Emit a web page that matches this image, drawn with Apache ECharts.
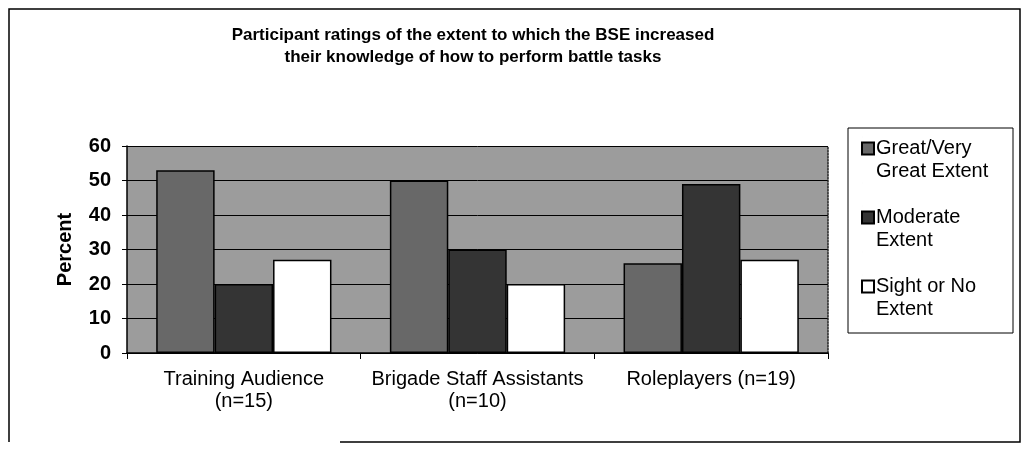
<!DOCTYPE html>
<html>
<head>
<meta charset="utf-8">
<script src="https://cdn.jsdelivr.net/npm/echarts@6/dist/echarts.min.js"></script>
<style>
  html, body { margin: 0; padding: 0; background: #fff; }
  #chart { width: 1028px; height: 449px; }
</style>
</head>
<body>
<div id="chart"></div>
<script>
// data
const categories = ['Training Audience\n(n=15)', 'Brigade Staff Assistants\n(n=10)', 'Roleplayers (n=19)'];
const seriesNames = ['Great/Very\nGreat Extent', 'Moderate\nExtent', 'Sight or No\nExtent'];
const greatValues = [53, 50, 26];
const moderateValues = [20, 30, 49];
const slightValues = [27, 20, 27];
const yTicks = [0, 10, 20, 30, 40, 50, 60];

const FONT = '"Liberation Sans", Arial, sans-serif';
const barColors = ['#686868', '#343434', '#ffffff'];
const seriesValues = [greatValues, moderateValues, slightValues];

// legend icon: square sitting on the first of the two text lines
const legendIcon = 'path://M0,0h0.01 M0,5.5h12v12h-12z M0,46h0.01';

const chart = echarts.init(document.getElementById('chart'), null, { renderer: 'canvas' });

const option = {
  animation: false,
  backgroundColor: '#fff',
  title: {
    text: 'Participant ratings of the extent to which the BSE increased\ntheir knowledge of how to perform battle tasks',
    left: 468,
    top: 19,
    textAlign: 'center',
    textStyle: {
      fontFamily: FONT,
      fontSize: 17,
      fontWeight: 'bold',
      color: '#000',
      lineHeight: 22
    }
  },
  grid: {
    left: 127,
    right: 200,
    top: 146,
    bottom: 96,
    show: true,
    backgroundColor: '#9c9c9c',
    borderWidth: 0
  },
  legend: {
    orient: 'vertical',
    left: 861,
    top: 136,
    padding: 0,
    itemWidth: 12,
    itemHeight: 46,
    itemGap: 21,
    icon: legendIcon,
    data: seriesNames,
    textStyle: {
      fontFamily: FONT,
      fontSize: 20,
      color: '#000',
      lineHeight: 23,
      padding: [0, 0, 0, -3]
    }
  },
  xAxis: {
    type: 'category',
    data: categories,
    axisLine: { lineStyle: { color: '#000', width: 1.5 } },
    axisTick: { show: true, length: 6, lineStyle: { color: '#000' } },
    axisLabel: {
      interval: 0,
      hideOverlap: false,
      fontFamily: FONT,
      fontSize: 20,
      color: '#000',
      lineHeight: 22,
      margin: 15
    }
  },
  yAxis: [{
    type: 'value',
    min: 0,
    max: 60,
    interval: 10,
    name: 'Percent',
    nameLocation: 'middle',
    nameGap: 52,
    nameRotate: 90,
    nameTextStyle: { fontFamily: FONT, fontSize: 20, fontWeight: 'bold', color: '#000' },
    axisLine: { show: true, lineStyle: { color: '#000', width: 1.5 } },
    axisTick: { show: true, length: 5, lineStyle: { color: '#000' } },
    axisLabel: {
      fontFamily: FONT,
      fontSize: 20,
      fontWeight: 'bold',
      color: '#000',
      margin: 16,
      formatter: (v) => (yTicks.includes(v) ? String(v) : '')
    },
    splitLine: { show: true, lineStyle: { color: '#000', width: 1 } }
  }, {
    type: 'value',
    min: 0,
    max: 60,
    interval: 10,
    position: 'right',
    axisLine: { show: true, lineStyle: { color: '#222', width: 1.5, type: 'dotted' } },
    axisTick: { show: false },
    axisLabel: { show: false },
    splitLine: { show: false }
  }],
  series: seriesNames.map((name, i) => ({
    name,
    type: 'bar',
    data: seriesValues[i],
    barGap: '0%',
    barCategoryGap: '25%',
    itemStyle: { color: barColors[i], borderColor: '#000', borderWidth: 1.5 }
  })),
  graphic: [
    {
      type: 'rect',
      shape: { x: 848, y: 128, width: 165, height: 205 },
      style: { fill: null, stroke: '#000', lineWidth: 1 }
    },
    {
      type: 'polyline',
      shape: { points: [[340, 442], [1020, 442], [1020, 9], [9, 9], [9, 442]] },
      style: { fill: null, stroke: '#000', lineWidth: 1.5 }
    }
  ]
};

chart.setOption(option);
</script>
</body>
</html>
